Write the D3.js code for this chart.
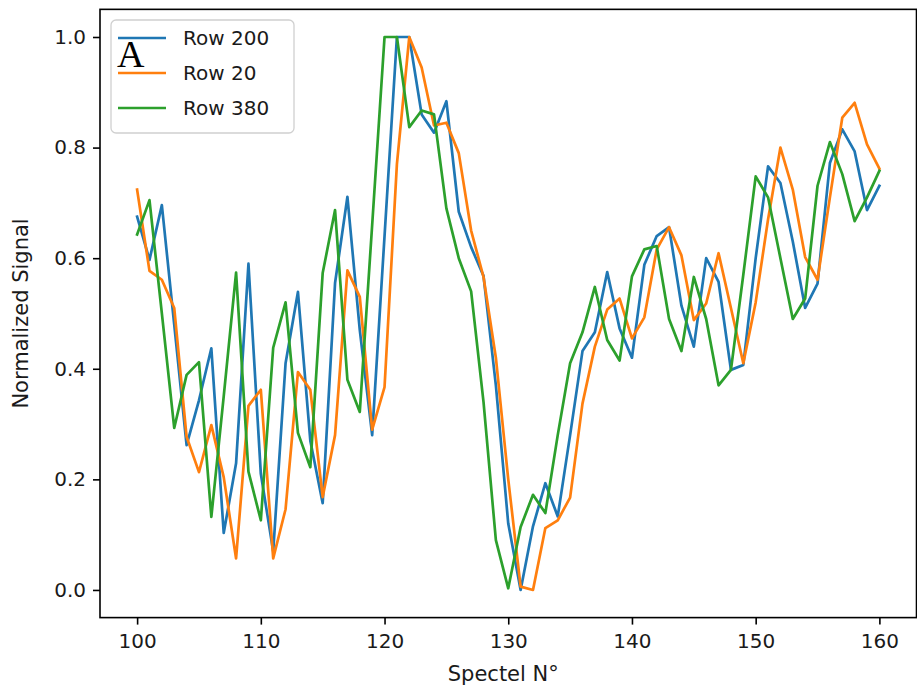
<!DOCTYPE html>
<html>
<head>
<meta charset="utf-8">
<script src="https://cdn.jsdelivr.net/npm/d3@7"></script>
<style>
  body { margin: 0; background: #fff; }
  svg { display: block; font-family: "DejaVu Sans", sans-serif; }
</style>
</head>
<body>
<svg id="chart"></svg>
<script>
// spectel numbers on the x axis
var spectels = d3.range(100, 161);

var seriesNames = ['Row 200', 'Row 20', 'Row 380'];

var row200 = [
  0.675, 0.597, 0.696, 0.48, 0.262, 0.343, 0.437, 0.103, 0.229, 0.59,
  0.21, 0.07, 0.41, 0.539, 0.27, 0.157, 0.555, 0.711, 0.47, 0.28,
  0.64, 1.0, 1.0, 0.86, 0.827, 0.884, 0.684, 0.62, 0.568, 0.37,
  0.12, 0.0, 0.115, 0.193, 0.133, 0.28, 0.432, 0.466, 0.575, 0.473,
  0.42, 0.588, 0.64, 0.656, 0.514, 0.44, 0.60, 0.557, 0.398, 0.407,
  0.60, 0.766, 0.736, 0.63, 0.51, 0.554, 0.772, 0.833, 0.793, 0.687,
  0.731
];

var row20 = [
  0.724, 0.577, 0.561, 0.51, 0.277, 0.213, 0.298, 0.204, 0.057, 0.333,
  0.362, 0.057, 0.146, 0.394, 0.362, 0.168, 0.28, 0.578, 0.53, 0.29,
  0.367, 0.77, 1.0, 0.945, 0.84, 0.845, 0.79, 0.65, 0.566, 0.42,
  0.2, 0.006, 0.0, 0.112, 0.126, 0.167, 0.337, 0.44, 0.507, 0.527,
  0.455, 0.493, 0.616, 0.656, 0.605, 0.488, 0.518, 0.609, 0.51, 0.41,
  0.52, 0.67, 0.80, 0.724, 0.602, 0.561, 0.71, 0.854, 0.881, 0.806,
  0.762
];

var row380 = [
  0.643, 0.705, 0.50, 0.293, 0.389, 0.412, 0.132, 0.35, 0.574, 0.214,
  0.126, 0.438, 0.52, 0.284, 0.222, 0.573, 0.687, 0.38, 0.322, 0.66,
  1.0, 1.0, 0.837, 0.867, 0.86, 0.69, 0.60, 0.54, 0.34, 0.09,
  0.003, 0.114, 0.172, 0.139, 0.28, 0.41, 0.466, 0.548, 0.452, 0.415,
  0.567, 0.616, 0.622, 0.49, 0.432, 0.566, 0.49, 0.37, 0.398, 0.57,
  0.748, 0.71, 0.60, 0.49, 0.527, 0.731, 0.81, 0.752, 0.667, 0.71,
  0.758
];

var xTicks = [100, 110, 120, 130, 140, 150, 160];
var yTicks = [0.0, 0.2, 0.4, 0.6, 0.8, 1.0];

(function SpectelChart() {

  var width = 917,
    height = 696;

  var colors = ['#1f77b4', '#ff7f0e', '#2ca02c'];

  var svg = d3.select('#chart')
    .attr('width', width)
    .attr('height', height);

  // axes box, matplotlib style 5% margins round the data
  var x = d3.scaleLinear().domain([97, 163]).range([100, 916.5]);
  var y = d3.scaleLinear().domain([-0.05, 1.05]).range([617.6, 9.35]);

  drawLines();
  drawAxes();
  drawLegend();
  drawPanelLetter();

  //--------------------------------------------------

  function drawLines() {
    var series = [row200, row20, row380];

    var line = d3.line()
      .x(function(d, i) { return x(spectels[i]); })
      .y(function(d) { return y(d); });

    svg.append('g')
      .selectAll('path')
      .data(series)
      .enter().append('path')
      .attr('d', line)
      .style('fill', 'none')
      .style('stroke', function(d, i) { return colors[i]; })
      .style('stroke-width', '2.7px')
      .style('stroke-linejoin', 'round')
      .style('stroke-linecap', 'square');
  }

  function drawAxes() {
    var xAxis = d3.axisBottom(x)
      .tickValues(xTicks)
      .tickFormat(d3.format('d'))
      .tickSizeInner(7)
      .tickSizeOuter(0)
      .tickPadding(9);

    var yAxis = d3.axisLeft(y)
      .tickValues(yTicks)
      .tickFormat(d3.format('.1f'))
      .tickSizeInner(7)
      .tickSizeOuter(0)
      .tickPadding(7);

    var gx = svg.append('g')
      .attr('transform', 'translate(0,' + y.range()[0] + ')')
      .call(xAxis);
    var gy = svg.append('g')
      .attr('transform', 'translate(' + x.range()[0] + ',0)')
      .call(yAxis);

    [gx, gy].forEach(function(g) {
      g.select('.domain').remove();
      g.selectAll('.tick line').style('stroke', '#000').style('stroke-width', '1.6px');
      g.selectAll('.tick text')
        .style('font-family', '"DejaVu Sans", sans-serif')
        .style('font-size', '20px')
        .style('fill', '#1a1a1a');
    });

    // frame
    svg.append('rect')
      .attr('x', x.range()[0])
      .attr('y', y.range()[1])
      .attr('width', x.range()[1] - x.range()[0])
      .attr('height', y.range()[0] - y.range()[1])
      .style('fill', 'none')
      .style('stroke', '#000')
      .style('stroke-width', '1.6px');

    svg.append('text')
      .attr('x', (x.range()[0] + x.range()[1]) / 2 - 5)
      .attr('y', 681)
      .attr('text-anchor', 'middle')
      .style('font-size', '21px')
      .style('fill', '#1a1a1a')
      .text('Spectel N°');

    svg.append('text')
      .attr('transform', 'translate(28,' + (y.range()[0] + y.range()[1]) / 2 + ') rotate(-90)')
      .attr('text-anchor', 'middle')
      .style('font-size', '21px')
      .style('fill', '#1a1a1a')
      .text('Normalized Signal');
  }

  function drawLegend() {
    var lg = svg.append('g');

    lg.append('rect')
      .attr('x', 111)
      .attr('y', 20)
      .attr('width', 183)
      .attr('height', 113)
      .attr('rx', 5)
      .style('fill', '#fff')
      .style('fill-opacity', 0.8)
      .style('stroke', '#d0d0d0')
      .style('stroke-width', '1.3px');

    var rows = lg.selectAll('.row')
      .data(seriesNames)
      .enter().append('g')
      .attr('class', 'row')
      .attr('transform', function(d, i) { return 'translate(0,' + (38 + i * 35) + ')'; });

    rows.append('line')
      .attr('x1', 118)
      .attr('x2', 166)
      .style('stroke', function(d, i) { return colors[i]; })
      .style('stroke-width', '2.7px');

    rows.append('text')
      .attr('x', 183)
      .attr('dy', '0.36em')
      .style('font-size', '20px')
      .style('fill', '#1a1a1a')
      .text(function(d) { return d; });
  }

  function drawPanelLetter() {
    svg.append('text')
      .attr('x', 117)
      .attr('y', 67)
      .style('font-family', '"Liberation Serif", "DejaVu Serif", serif')
      .style('font-size', '38px')
      .style('fill', '#000')
      .text('A');
  }

})();
</script>
</body>
</html>
